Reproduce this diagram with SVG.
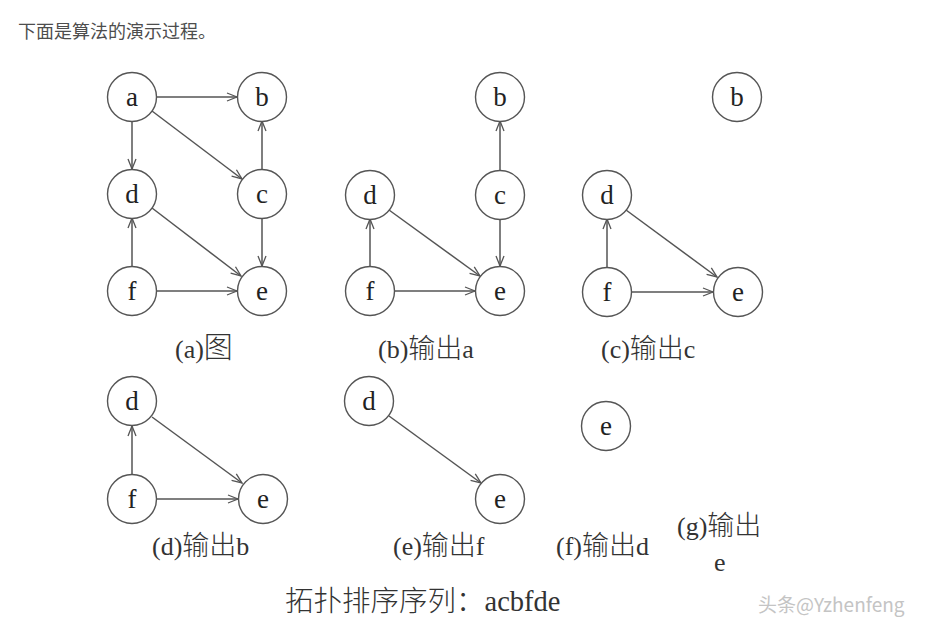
<svg xmlns="http://www.w3.org/2000/svg" width="927" height="624" viewBox="0 0 927 624">
<defs>
<marker id="ar" markerWidth="12" markerHeight="10" refX="11" refY="5" orient="auto" markerUnits="userSpaceOnUse">
<path d="M1,1 L11,5 L1,9" fill="none" stroke="#555" stroke-width="1.3"/>
</marker>
</defs>
<style>
.n circle{fill:#fff;stroke:#555;stroke-width:1.4}
.n text{font-family:"Liberation Serif",serif;font-size:27px;fill:#222;text-anchor:middle}
.e line{stroke:#555;stroke-width:1.5;marker-end:url(#ar)}
.lab{font-family:"Liberation Serif","Noto Sans CJK SC",serif;font-size:26px;fill:#333}
.cj{font-family:"Noto Sans CJK SC",sans-serif;font-size:27px;font-weight:300}
.top{font-family:"Noto Sans CJK SC","Liberation Sans",sans-serif;font-size:18px;fill:#4d4d4d}
.wm{font-family:"Noto Sans CJK SC","Liberation Sans",sans-serif;font-size:19px;fill:#c4c4c4}
</style>
<rect width="927" height="624" fill="#fff"/>
<text class="top" x="18" y="38">下面是算法的演示过程。</text>

<g id="edges" class="e">
<line x1="157" y1="97" x2="237" y2="97"/>
<line x1="132" y1="121" x2="132" y2="169"/>
<line x1="152" y1="111" x2="242" y2="179"/>
<line x1="262" y1="169" x2="262" y2="121"/>
<line x1="262" y1="218" x2="262" y2="266"/>
<line x1="152" y1="208" x2="241" y2="276"/>
<line x1="132" y1="266" x2="132" y2="218"/>
<line x1="157" y1="291" x2="237" y2="291"/>
<line x1="500" y1="170" x2="500" y2="121"/>
<line x1="500" y1="220" x2="500" y2="266"/>
<line x1="389" y1="210" x2="480" y2="276"/>
<line x1="370" y1="266" x2="370" y2="219"/>
<line x1="395" y1="291" x2="475" y2="291"/>
<line x1="626" y1="210" x2="717" y2="277"/>
<line x1="607" y1="267" x2="607" y2="219"/>
<line x1="632" y1="292" x2="713" y2="292"/>
<line x1="152" y1="417" x2="242" y2="483"/>
<line x1="132" y1="475" x2="132" y2="426"/>
<line x1="157" y1="499" x2="238" y2="499"/>
<line x1="389" y1="416" x2="481" y2="483"/>
</g>

<g id="a_a" class="n"><circle cx="132" cy="97" r="24.5"/><text x="132" y="106">a</text></g>
<g id="a_b" class="n"><circle cx="262" cy="97" r="24.5"/><text x="262" y="106">b</text></g>
<g id="a_c" class="n"><circle cx="262" cy="194" r="24.5"/><text x="262" y="203">c</text></g>
<g id="a_d" class="n"><circle cx="132" cy="194" r="24.5"/><text x="132" y="203">d</text></g>
<g id="a_f" class="n"><circle cx="132" cy="291" r="24.5"/><text x="132" y="300">f</text></g>
<g id="a_e" class="n"><circle cx="262" cy="291" r="24.5"/><text x="262" y="300">e</text></g>

<g id="b_b" class="n"><circle cx="500" cy="97" r="24.5"/><text x="500" y="106">b</text></g>
<g id="b_c" class="n"><circle cx="500" cy="195" r="24.5"/><text x="500" y="204">c</text></g>
<g id="b_d" class="n"><circle cx="370" cy="195" r="24.5"/><text x="370" y="204">d</text></g>
<g id="b_f" class="n"><circle cx="370" cy="291" r="24.5"/><text x="370" y="300">f</text></g>
<g id="b_e" class="n"><circle cx="500" cy="291" r="24.5"/><text x="500" y="300">e</text></g>

<g id="c_b" class="n"><circle cx="737" cy="97" r="24.5"/><text x="737" y="106">b</text></g>
<g id="c_d" class="n"><circle cx="607" cy="195" r="24.5"/><text x="607" y="204">d</text></g>
<g id="c_f" class="n"><circle cx="607" cy="292" r="24.5"/><text x="607" y="301">f</text></g>
<g id="c_e" class="n"><circle cx="738" cy="292" r="24.5"/><text x="738" y="301">e</text></g>

<g id="d_d" class="n"><circle cx="132" cy="401" r="24.5"/><text x="132" y="410">d</text></g>
<g id="d_f" class="n"><circle cx="132" cy="499" r="24.5"/><text x="132" y="508">f</text></g>
<g id="d_e" class="n"><circle cx="263" cy="499" r="24.5"/><text x="263" y="508">e</text></g>

<g id="e_d" class="n"><circle cx="369" cy="401" r="24.5"/><text x="369" y="410">d</text></g>
<g id="e_e" class="n"><circle cx="500" cy="499" r="24.5"/><text x="500" y="508">e</text></g>

<g id="f_e" class="n"><circle cx="606" cy="426" r="24.5"/><text x="606" y="435">e</text></g>

<g id="labels">
<text class="lab" x="175" y="358">(a)<tspan class="cj" style="font-size:29px">图</tspan></text>
<text class="lab" x="378" y="358">(b)<tspan class="cj">输出</tspan>a</text>
<text class="lab" x="601" y="358">(c)<tspan class="cj">输出</tspan>c</text>
<text class="lab" x="152" y="555">(d)<tspan class="cj">输出</tspan>b</text>
<text class="lab" x="393" y="555">(e)<tspan class="cj">输出</tspan>f</text>
<text class="lab" x="556" y="555">(f)<tspan class="cj">输出</tspan>d</text>
<text class="lab" x="677" y="535">(g)<tspan class="cj">输出</tspan></text>
<text class="lab" x="714" y="571">e</text>
<text class="lab" x="285" y="611" style="font-size:28.5px"><tspan class="cj" style="font-size:28.5px">拓扑排序序列：</tspan>acbfde</text>
</g>
<text class="wm" x="758" y="612">头条@Yzhenfeng</text>
</svg>
